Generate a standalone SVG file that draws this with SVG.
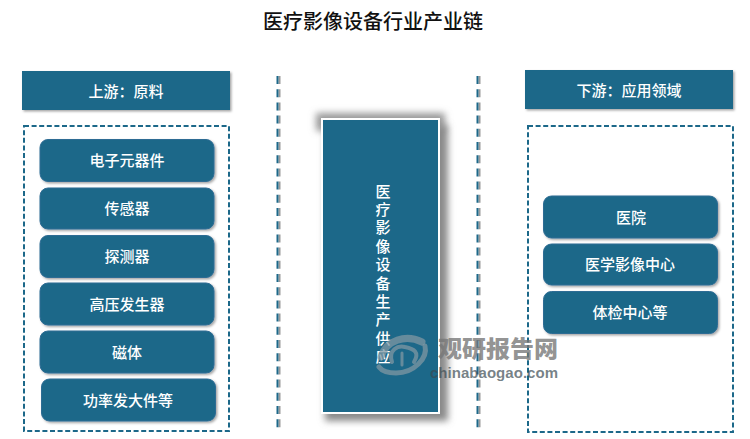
<svg xmlns="http://www.w3.org/2000/svg" width="750" height="439" viewBox="0 0 750 439">
<style>
text{font-family:"Noto Sans CJK SC","Noto Sans",sans-serif;text-anchor:middle}
.t{fill:#fff;font-size:15px;font-weight:500}
.h{fill:#1c6889;filter:url(#sh)}
.n{fill:#1c6889;stroke:#2f6c94;stroke-width:1;filter:url(#sh)}
.d{fill:none;stroke:#1c6889;stroke-width:2;stroke-dasharray:5 2.6}
.v{fill:none;stroke:#1c6889;stroke-width:2;stroke-dasharray:8 5.2}
.vs{fill:none;stroke:#999;stroke-width:2;stroke-dasharray:8 5.2;filter:url(#b1)}
</style>
<defs>
<filter id="sh" x="-10%" y="-20%" width="125%" height="150%"><feDropShadow dx="1.5" dy="1.5" stdDeviation="1.2" flood-color="#000" flood-opacity=".35"/></filter>
<filter id="b1" filterUnits="userSpaceOnUse" x="260" y="60" width="240" height="380"><feGaussianBlur stdDeviation="0.7"/></filter>
<filter id="b4" filterUnits="userSpaceOnUse" x="290" y="90" width="180" height="350"><feGaussianBlur stdDeviation="3.5"/></filter>
</defs>
<rect width="750" height="439" fill="#fff"/>
<text id="title" x="373" y="29" font-size="20" font-weight="500" fill="#111">医疗影像设备行业产业链</text>
<g id="connectors">
<line class="vs" x1="279.500" y1="76" x2="279.500" y2="430"/>
<line class="vs" x1="479.500" y1="76" x2="479.500" y2="430"/>
<line class="v" x1="277.500" y1="76" x2="277.500" y2="430"/>
<line class="v" x1="477.500" y1="76" x2="477.500" y2="430"/>
</g>
<g id="upstream-header"><rect class="h" x="22" y="71" width="208" height="39"/><text class="t" x="126" y="97">上游：原料</text></g>
<g id="upstream-box"><rect class="d" x="24" y="126" width="205" height="305"/></g>
<g id="n1"><rect class="n" x="40" y="139.500" width="174" height="42" rx="8"/><text class="t" x="127" y="166">电子元器件</text></g>
<g id="n2"><rect class="n" x="40" y="188" width="174" height="41" rx="8"/><text class="t" x="127" y="214">传感器</text></g>
<g id="n3"><rect class="n" x="40" y="235.500" width="174" height="42" rx="8"/><text class="t" x="127" y="262">探测器</text></g>
<g id="n4"><rect class="n" x="40" y="283" width="174" height="42" rx="8"/><text class="t" x="127" y="310">高压发生器</text></g>
<g id="n5"><rect class="n" x="40" y="331" width="174" height="42" rx="8"/><text class="t" x="127" y="358">磁体</text></g>
<g id="n6"><rect class="n" x="41.500" y="379" width="174" height="42" rx="8"/><text class="t" x="128" y="406">功率发大件等</text></g>
<g id="center">
<rect x="316" y="113" width="129" height="18" fill="#999" filter="url(#b4)"/>
<rect x="325" y="125" width="123" height="296" fill="#8a8a8a" filter="url(#b4)"/>
<rect x="321" y="118" width="119" height="296" fill="#fff"/>
<rect x="323" y="120" width="115" height="292" fill="#1c6889"/>
<text class="t" x="383" y="183.500" style="writing-mode:vertical-rl;text-orientation:upright;text-anchor:start;letter-spacing:3.4px">医疗影像设备生产供应</text>
</g>
<g id="downstream-header"><rect class="h" x="525" y="70" width="208" height="39"/><text class="t" x="629" y="96">下游：应用领域</text></g>
<g id="downstream-box"><rect class="d" x="528" y="126" width="205" height="306"/></g>
<g id="m1"><rect class="n" x="543.500" y="196" width="174" height="42" rx="8"/><text class="t" x="631" y="223">医院</text></g>
<g id="m2"><rect class="n" x="543.500" y="244" width="174" height="41" rx="8"/><text class="t" x="630" y="270">医学影像中心</text></g>
<g id="m3"><rect class="n" x="543.500" y="291.500" width="174" height="42" rx="8"/><text class="t" x="630" y="318">体检中心等</text></g>
<g id="watermark">
<g fill="none" stroke="#7f97a3" stroke-opacity=".75" stroke-linecap="round">
<path stroke-width="7" d="M381 357C386 340 406 334 422 342"/>
<path stroke-width="5" d="M425 346C428 358 414 373 396 373C388 373 382 371 379 367"/>
<path stroke-width="4" d="M392 362C388 350 398 345 405 347C414 349 420 352 414 362"/>
<path stroke-width="3" d="M402 353L402 365"/>
</g>
<text x="498" y="357" font-size="23" font-weight="900" fill="#777" fill-opacity=".8" textLength="120" lengthAdjust="spacingAndGlyphs">观研报告网</text>
<text x="494" y="378" font-size="15" font-weight="700" fill="#3a4a52" fill-opacity=".7" textLength="128" lengthAdjust="spacing" style="font-family:'Liberation Sans',sans-serif">chinabaogao.com</text>
</g>
</svg>
